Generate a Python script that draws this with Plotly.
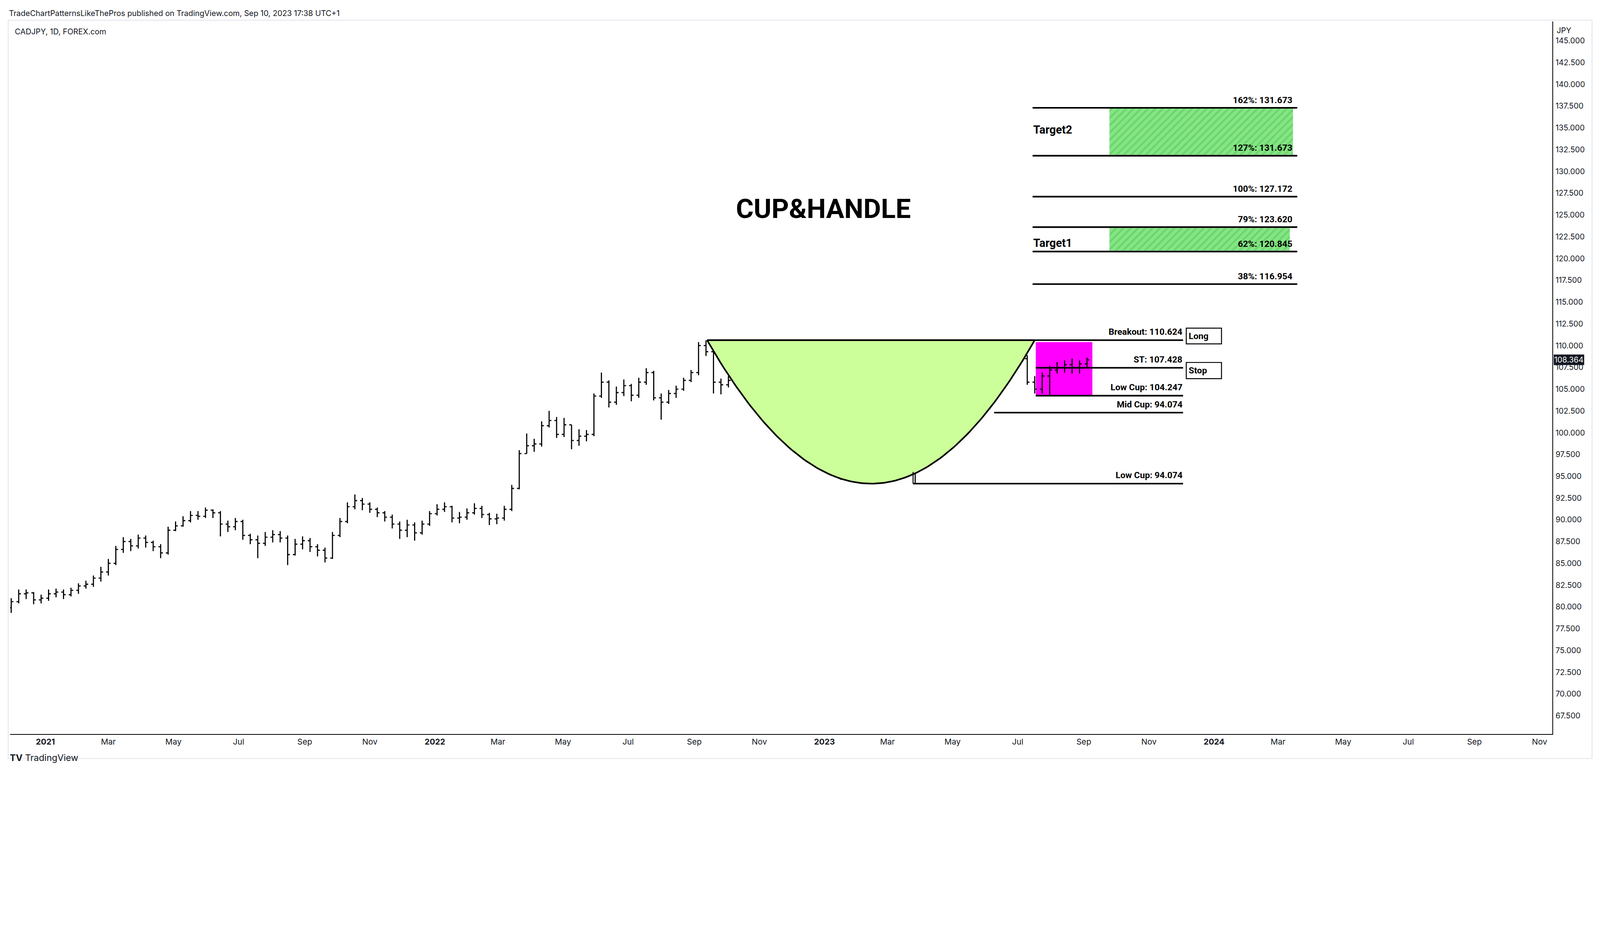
import pandas as pd
import numpy as np
import plotly.graph_objects as go

S = 1 / 1.212  # device-pixel ratio compensation
W, H = round(4950 * S), round(2396 * S)
L, R, T, B = 22 * S, 143 * S, 57 * S, 129 * S

start_week = "2020-11-30"
week_close = [80.6, 81.5, 81.6, 80.8, 81.0,
 81.5, 81.7, 81.4, 81.9, 82.4, 82.6, 83.3, 84.0, 85.0, 86.6, 87.5, 87.0, 87.9, 87.4, 86.9, 86.2, 88.8, 89.3, 89.9, 90.5, 90.4, 91.1, 90.8, 89.5, 89.2, 89.8, 88.2, 87.7, 87.3, 88.0, 88.3, 87.9, 86.0, 87.2, 87.6, 86.9, 86.5, 85.6, 88.2, 89.8, 91.5, 92.2, 91.8, 91.2, 90.8, 90.3, 89.5, 88.8, 89.4, 88.5, 89.5, 90.7,
 91.2, 91.5, 90.2, 90.3, 90.8, 91.3, 90.6, 90.1, 90.2, 91.2, 93.6, 97.6, 98.5, 98.7, 100.8, 101.4, 99.8, 100.9, 99.1, 99.6, 99.8, 104.2, 105.8, 103.5, 104.6, 105.4, 104.3, 105.8, 106.9, 104.0, 103.5, 104.5, 105.0, 106.0, 106.9, 110.0, 109.3, 105.8, 105.5, 106.0, 107.5, 109.2, 108.3, 108.6, 105.3, 104.9, 103.6, 101.0, 100.3, 99.8, 97.6, 98.5,
 98.0, 96.0, 96.3, 97.6, 97.8, 98.3, 99.9, 100.2, 100.1, 98.6, 96.3, 96.6, 97.6, 97.0, 98.5, 99.5, 99.0, 100.4, 101.0, 102.1, 102.5, 102.9, 104.2, 106.0, 107.9, 108.8, 108.5, 105.8, 105.0, 106.5, 107.2, 107.5, 107.8, 107.5, 107.9, 108.364]
week_high = [81.0, 82.0, 82.0, 81.7, 81.4,
 82.0, 82.1, 82.0, 82.2, 82.7, 83.0, 83.6, 84.6, 85.5, 87.0, 88.0, 87.8, 88.3, 88.2, 87.6, 87.2, 89.2, 89.8, 90.4, 91.0, 91.0, 91.4, 91.2, 91.0, 89.9, 90.2, 90.0, 88.4, 88.2, 88.6, 88.8, 88.7, 88.2, 87.8, 88.1, 87.9, 87.2, 86.8, 88.6, 90.2, 92.0, 92.9, 92.5, 92.0, 91.4, 91.0, 90.6, 89.8, 90.0, 89.7, 89.9, 91.0,
 91.8, 92.0, 91.6, 90.9, 91.3, 91.9, 91.6, 90.8, 90.7, 91.6, 94.0, 98.0, 99.9, 99.3, 101.3, 102.5, 101.8, 101.7, 100.9, 100.4, 100.3, 104.5, 106.9, 106.0, 105.3, 106.1, 105.6, 106.3, 107.4, 107.1, 104.5, 104.9, 105.4, 106.3, 107.2, 110.4, 110.6, 109.6, 106.2, 106.5, 108.0, 110.3, 109.6, 109.2, 108.9, 105.7, 105.2, 104.0, 101.3, 101.3, 100.7, 99.4,
 99.0, 98.6, 96.9, 98.0, 98.5, 98.9, 100.2, 100.7, 100.6, 100.3, 98.8, 97.3, 98.2, 98.3, 98.9, 100.3, 100.6, 101.7, 101.4, 102.4, 102.9, 103.2, 104.5, 106.3, 108.2, 109.3, 109.4, 108.9, 106.5, 106.9, 107.7, 108.1, 108.3, 108.5, 108.3, 108.6]
week_low = [79.3, 80.4, 80.9, 80.3, 80.4,
 80.7, 81.1, 80.9, 81.2, 81.5, 82.1, 82.3, 82.9, 83.6, 84.8, 86.2, 86.4, 86.7, 86.8, 86.4, 85.6, 86.0, 88.7, 89.2, 89.7, 90.0, 90.2, 90.2, 88.1, 88.6, 88.8, 87.7, 87.2, 85.6, 87.0, 87.4, 87.4, 84.8, 85.9, 86.6, 86.3, 85.8, 85.1, 85.5, 88.0, 89.6, 91.2, 91.1, 90.8, 90.3, 89.8, 89.0, 87.8, 88.0, 87.6, 88.3, 89.3,
 90.5, 90.9, 89.7, 89.6, 90.0, 90.6, 90.2, 89.4, 89.5, 89.9, 91.0, 93.5, 97.6, 97.8, 98.4, 100.6, 99.4, 99.5, 98.1, 98.5, 99.0, 99.6, 104.0, 102.9, 103.2, 104.2, 103.6, 104.0, 105.5, 103.7, 101.5, 103.3, 104.0, 104.8, 105.8, 106.6, 108.8, 104.5, 104.4, 105.2, 105.7, 107.3, 107.7, 108.0, 104.9, 104.6, 103.3, 101.0, 99.8, 99.5, 96.5, 96.9,
 97.5, 95.5, 94.6, 95.6, 97.2, 97.4, 98.1, 99.7, 99.4, 98.2, 95.3, 95.4, 94.2, 96.5, 96.7, 98.1, 98.5, 98.8, 100.2, 100.7, 101.9, 102.1, 102.7, 104.0, 105.7, 107.7, 108.1, 105.5, 104.5, 104.5, 104.3, 106.8, 106.9, 106.8, 106.8, 107.4]

x_tickvals = ["2021-01-01","2021-03-01","2021-05-01","2021-07-01","2021-09-01","2021-11-01",
              "2022-01-01","2022-03-01","2022-05-01","2022-07-01","2022-09-01","2022-11-01",
              "2023-01-01","2023-03-01","2023-05-01","2023-07-01","2023-09-01","2023-11-01",
              "2024-01-01","2024-03-01","2024-05-01","2024-07-01","2024-09-01","2024-11-01"]
x_ticktext = ["<b>2021</b>","Mar","May","Jul","Sep","Nov","<b>2022</b>","Mar","May","Jul","Sep","Nov",
              "<b>2023</b>","Mar","May","Jul","Sep","Nov","<b>2024</b>","Mar","May","Jul","Sep","Nov"]
y_tickvals = [67.5 + 2.5 * i for i in range(32)]

cup_left, cup_right, cup_mid = "2022-09-13", "2023-07-17", "2023-02-14"
breakout, cup_bottom = 110.624, 94.15
handle_box = ("2023-07-18", "2023-09-09", 104.25, 110.4)
level_lines = [
    ("2022-09-13", "2023-12-03", 110.624, "Breakout: 110.624"),
    ("2023-07-18", "2023-12-03", 107.45, "ST: 107.428"),
    ("2023-07-18", "2023-12-03", 104.25, "Low Cup: 104.247"),
    ("2023-06-09", "2023-12-03", 102.3, "Mid Cup: 94.074"),
    ("2023-03-25", "2023-12-03", 94.15, "Low Cup: 94.074"),
]
fib_lines = [(137.3, "162%: 131.673"), (131.8, "127%: 131.673"), (127.1, "100%: 127.172"),
             (123.6, "79%: 123.620"), (120.8, "62%: 120.845"), (117.06, "38%: 116.954")]
fib_x0, fib_x1 = "2023-07-15", "2024-03-19"
targets = [("Target2", "2023-09-25", "2024-03-15", 131.9, 137.3, 134.8),
           ("Target1", "2023-09-25", "2024-03-12", 120.9, 123.5, 121.8)]
boxes = [("Long", "2023-12-06", "2024-01-08", 110.2, 112.0), ("Stop", "2023-12-06", "2024-01-08", 106.2, 108.06)]
last_price = 108.364

n = min(len(week_close), len(week_high), len(week_low))
dates = pd.date_range(start_week, periods=n, freq="7D")
close = np.array(week_close[:n])
openp = np.concatenate([[week_low[0] + 0.6], close[:-1]])
high = np.maximum(np.array(week_high[:n]), np.maximum(openp, close))
low = np.minimum(np.array(week_low[:n]), np.minimum(openp, close))

F = "Roboto"
TXT = "#131722"
LAB = 27.5 * S
fig = go.Figure()
t0, t1, tm = pd.Timestamp(cup_left), pd.Timestamp(cup_right), pd.Timestamp(cup_mid)
s = np.linspace(-1, 1, 121)
cx = [tm + (tm - t0) * v if v < 0 else tm + (t1 - tm) * v for v in s]
cy = cup_bottom + (breakout - cup_bottom) * s ** 2
fig.add_trace(go.Scatter(x=cx + [cx[0]], y=list(cy) + [cy[0]], mode="lines", fill="toself",
                         fillcolor="#ccff99", line=dict(color="black", width=5 * S), hoverinfo="skip"))
for name, x0, x1, y0, y1, ty in targets:
    fig.add_trace(go.Scatter(x=[x0, x1, x1, x0, x0], y=[y0, y0, y1, y1, y0], mode="lines",
                             fill="toself", line=dict(width=0), fillcolor="#84e584",
                             fillpattern=dict(shape="/", bgcolor="#84e584", fgcolor="#55c255",
                                              size=16 * S, solidity=0.35)))
    fig.add_annotation(x=fib_x0, y=ty, text=f"<b>{name}</b>", xanchor="left", showarrow=False,
                       font=dict(size=35 * S, color="black", family=F))
fig.add_shape(type="rect", x0=handle_box[0], x1=handle_box[1], y0=handle_box[2], y1=handle_box[3],
              fillcolor="#ff00ff", line=dict(width=0), layer="below")
fig.add_trace(go.Ohlc(x=dates, open=openp, high=high, low=low, close=close,
                      increasing=dict(line=dict(color="black", width=3.5 * S)),
                      decreasing=dict(line=dict(color="black", width=3.5 * S)), tickwidth=0.3))

for x0, x1, y, lab in level_lines:
    fig.add_shape(type="line", x0=x0, x1=x1, y0=y, y1=y, line=dict(color="black", width=5 * S))
    fig.add_annotation(x=x1, y=y, text=f"<b>{lab}</b>", xanchor="right", yanchor="bottom", yshift=7 * S,
                       showarrow=False, font=dict(size=LAB, color="black", family=F))
fig.add_shape(type="line", x0="2023-03-25", x1="2023-03-25", y0=94.15, y1=95.5, line=dict(color="black", width=3 * S))
for y, lab in fib_lines:
    fig.add_shape(type="line", x0=fib_x0, x1=fib_x1, y0=y, y1=y, line=dict(color="black", width=5 * S))
    fig.add_annotation(x="2024-03-15", y=y, text=f"<b>{lab}</b>", xanchor="right", yanchor="bottom", yshift=5 * S,
                       showarrow=False, font=dict(size=LAB, color="black", family=F))
for lab, x0, x1, y0, y1 in boxes:
    fig.add_shape(type="rect", x0=x0, x1=x1, y0=y0, y1=y1, line=dict(color="black", width=3 * S), fillcolor="white")
    fig.add_annotation(x=x0, y=(y0 + y1) / 2, text=f"<b>{lab}</b>", xanchor="left", xshift=5 * S,
                       showarrow=False, font=dict(size=LAB, color="black", family=F))

fig.add_annotation(x="2022-12-31", y=125.7, text="<b>CUP&HANDLE</b>", showarrow=False,
                   font=dict(size=84 * S, color="black", family=F))

def px(xp):
    return (xp * S - L) / (W - L - R)
def py(yp):
    return 1 - (yp * S - T) / (H - T - B)

fig.add_annotation(xref="paper", yref="paper", x=px(16), y=py(14), xanchor="left", yanchor="top", showarrow=False,
                   text="TradeChartPatternsLikeThePros published on TradingView.com, Sep 10, 2023 17:38 UTC+1",
                   font=dict(size=24 * S, color=TXT, family="Inter"))
fig.add_annotation(xref="paper", yref="paper", x=px(34), y=py(71), xanchor="left", yanchor="top", showarrow=False,
                   text="CADJPY, 1D, FOREX.com", font=dict(size=24 * S, color=TXT, family="Inter"))
fig.add_annotation(xref="paper", yref="paper", x=px(4818), y=py(85), xanchor="left", yanchor="middle", showarrow=False,
                   text="JPY", font=dict(size=24 * S, color=TXT, family="Inter"))
fig.add_annotation(xref="paper", yref="paper", x=px(18), y=py(2361), xanchor="left", showarrow=False,
                   text="<b>TV</b> TradingView", font=dict(size=28 * S, color=TXT, family="Inter"))
fig.add_annotation(xref="paper", x=1.0, y=last_price, xanchor="left", xshift=4 * S, showarrow=False,
                   text=f"{last_price:.3f}", bgcolor=TXT, font=dict(size=24 * S, color="white", family="Inter"))
fig.add_shape(type="rect", xref="paper", yref="paper", x0=px(16), x1=px(4930), y0=py(53), y1=py(2343),
              line=dict(color="#e6e8ef", width=3 * S), layer="below")

fig.update_layout(width=W, height=H, margin=dict(l=L, r=R, t=T, b=B), showlegend=False,
                  plot_bgcolor="white", paper_bgcolor="white")
fig.update_xaxes(type="date", range=["2020-11-29", "2024-11-13"], rangeslider_visible=False,
                 tickvals=x_tickvals, ticktext=x_ticktext, showgrid=False, ticks="",
                 showline=True, linecolor="black", linewidth=3 * S,
                 tickfont=dict(size=25 * S, color=TXT, family="Inter"))
fig.update_yaxes(side="right", range=[65.4, 147.21], tickvals=y_tickvals, tickformat=".3f",
                 showgrid=False, showline=True, linecolor="black", linewidth=3 * S,
                 ticks="", ticklabelstandoff=2,
                 tickfont=dict(size=24 * S, color=TXT, family="Inter"))
fig.write_html("out.html")
